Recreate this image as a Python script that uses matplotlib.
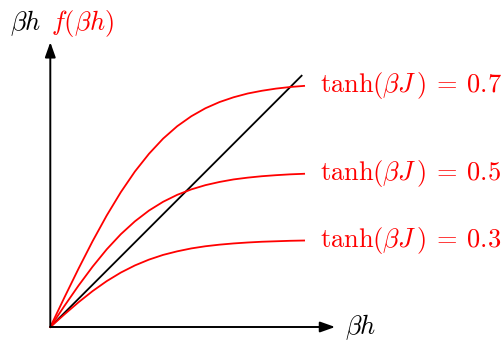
import numpy as np
import matplotlib
matplotlib.use("Agg")
import matplotlib.pyplot as plt

plt.rcParams['mathtext.fontset'] = 'cm'
plt.rcParams['font.family'] = 'serif'

# beta*h samples and f(beta*h) for each coupling
bh = [0.00, 0.15, 0.30, 0.45, 0.60, 0.75, 0.90, 1.05, 1.20, 1.35,
      1.50, 1.65, 1.80, 1.95, 2.10, 2.25, 2.40, 2.55, 2.70]
f_07 = [0.000, 0.314, 0.620, 0.913, 1.186, 1.434, 1.654, 1.843, 2.004, 2.136,
        2.242, 2.327, 2.393, 2.444, 2.484, 2.513, 2.536, 2.553, 2.565]
f_05 = [0.000, 0.224, 0.440, 0.642, 0.826, 0.987, 1.124, 1.239, 1.332, 1.406,
        1.464, 1.509, 1.543, 1.570, 1.589, 1.604, 1.615, 1.624, 1.630]
f_03 = [0.000, 0.134, 0.263, 0.382, 0.488, 0.579, 0.655, 0.717, 0.767, 0.805,
        0.836, 0.859, 0.876, 0.889, 0.899, 0.907, 0.912, 0.917, 0.920]
curves = [f_07, f_05, f_03]
couplings = ['0.7', '0.5', '0.3']
labels = [r'$\tanh(\beta J\,)\:=\:%s$' % c for c in couplings]
diag_end = 2.68
axis_len = 3.03

unit = 94.0  # pixels per unit
ox, oy = 50.3, 327.0  # origin in pixels from top-left
W, H = 501, 341
fs = 19

fig = plt.figure(figsize=(W / 100, H / 100), dpi=100)
ax = fig.add_axes([0, 0, 1, 1])
ax.set_xlim(-ox / unit, (W - ox) / unit)
ax.set_ylim(-(H - oy) / unit, oy / unit)
ax.axis('off')

# axes with arrow heads
arrow = dict(arrowstyle='-|>,head_length=0.45,head_width=0.16', color='black',
             lw=1.4, mutation_scale=20, shrinkA=0, shrinkB=0)
ax.annotate('', xy=(axis_len, 0), xytext=(0, 0), arrowprops=arrow)
ax.annotate('', xy=(0, axis_len), xytext=(0, 0), arrowprops=arrow)

# identity line
ax.plot([0, diag_end], [0, diag_end], color='black', lw=1.3, solid_capstyle='butt')

for f, lab in zip(curves, labels):
    ax.plot(bh, f, color='red', lw=1.3)
    ax.text(2.87, f[-1], lab, color='red', fontsize=fs, ha='left', va='center')

ax.text(3.135, 0, r'$\beta h$', color='black', fontsize=fs, ha='left', va='center')
ax.text(-0.429, 3.229, r'$\beta h$', color='black', fontsize=fs, ha='left', va='center')
ax.text(0.01, 3.229, r'$f(\beta h)$', color='red', fontsize=fs, ha='left', va='center')

fig.savefig('out.png', dpi=100)
